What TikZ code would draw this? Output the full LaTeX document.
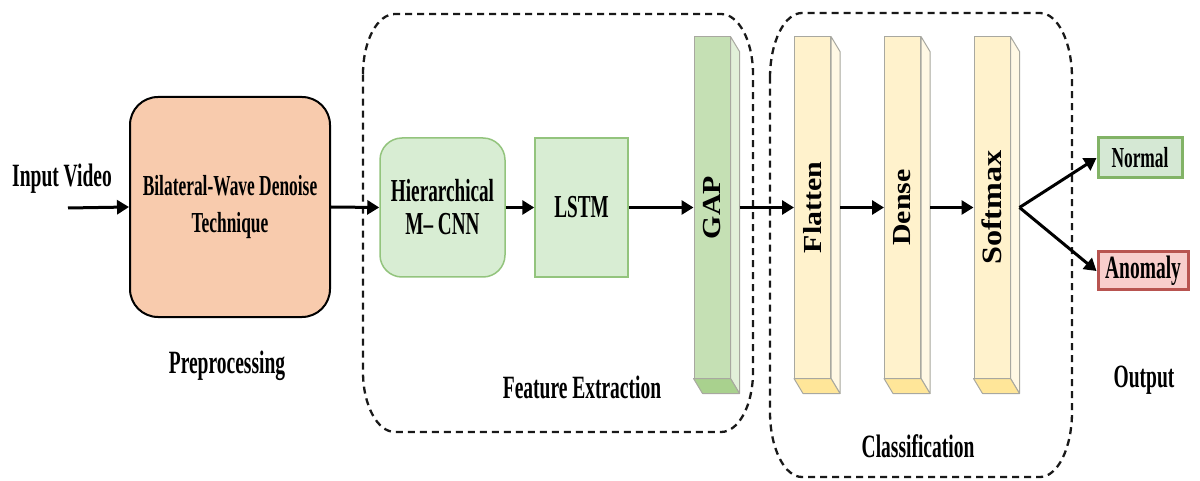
\documentclass[tikz,border=0pt]{standalone}
\usepackage{fontspec}
\newfontfamily\cond{Liberation Serif}[FakeStretch=0.6]
\newfontfamily\widefont{Liberation Serif}[FakeStretch=1.15]
\usetikzlibrary{arrows.meta}
\definecolor{peach}{HTML}{F8CBAD}
\definecolor{lgreen}{HTML}{D8EDD3}
\definecolor{lgreenline}{HTML}{93C47D}
\definecolor{gapfront}{HTML}{C5E0B4}
\definecolor{gapside}{HTML}{E2F0D9}
\definecolor{gapbottom}{HTML}{A9D18E}
\definecolor{yfront}{HTML}{FFF2CC}
\definecolor{yside}{HTML}{FFF8E4}
\definecolor{ybottom}{HTML}{FFE699}
\definecolor{facegray}{HTML}{A8A8A0}
\definecolor{okfill}{HTML}{D5E8D4}
\definecolor{okline}{HTML}{82B366}
\definecolor{badfill}{HTML}{F8CECC}
\definecolor{badline}{HTML}{B85450}
\newcommand{\layerbox}[6]{%
  \node[layer, fill=#3] (#1) at (#2,207.5) {};
  \draw[face, fill=#4] (#1.north east) -- ++(9,15) -- ([shift={(9,15)}]#1.south east) -- (#1.south east) -- cycle;
  \draw[face, fill=#5] (#1.south west) -- (#1.south east) -- ++(9,15) -- ([shift={(9,15)}]#1.south west) -- cycle;
  \node[vlbl] (#1-t) at (#1.center) {#6};
  \coordinate (#1-out) at ([xshift=9]#1.east);
}
\newcommand{\regionpath}[6]{% x0 y0 x1 y1 rx ry
  \draw[region] (#1,#2+#6) arc[start angle=180, end angle=270, x radius=#5, y radius=#6]
    -- (#3-#5,#2) arc[start angle=270, end angle=360, x radius=#5, y radius=#6]
    -- (#3,#4-#6) arc[start angle=0, end angle=90, x radius=#5, y radius=#6]
    -- (#1+#5,#4) arc[start angle=90, end angle=180, x radius=#5, y radius=#6]
    -- cycle;
}
\begin{document}
\begin{tikzpicture}[x=1pt,y=-1pt,
  lbl/.style={font={\cond\bfseries\fontsize{32.5}{38}\selectfont}, inner sep=0pt},
  vlbl/.style={font={\widefont\bfseries\fontsize{26}{30}\selectfont}, inner sep=0pt, rotate=90},
  arr/.style={line width=3pt, -{Triangle[length=12pt,width=14pt]}},
  region/.style={draw=black!90, line width=2.3pt, dash pattern=on 7pt off 5pt},
  layer/.style={draw=facegray, line width=1pt, inner sep=0pt, minimum width=36pt, minimum height=341pt},
  face/.style={draw=facegray, line width=1pt, line join=round},
  peachbox/.style={draw=black, line width=2pt, fill=peach, rounded corners=28pt, minimum width=200pt, minimum height=220pt, align=center, inner sep=0pt, font={\cond\bfseries\fontsize{29}{37}\selectfont}},
  greenbox/.style={draw=lgreenline, line width=1.5pt, fill=lgreen, minimum width=#1, minimum height=139pt, align=center, inner sep=0pt, font={\cond\bfseries\fontsize{32}{33}\selectfont}},
  outbox/.style={line width=3pt, inner sep=0pt}
]
\useasboundingbox[fill=white] (0,0) rectangle (1200,481);

% grouping regions
\regionpath{363}{14}{753}{432}{32}{60}
\regionpath{770}{13}{1072}{477}{32}{65}

% preprocessing
\node[lbl, anchor=base] (inp) at (62,187) {Input Video};
\coordinate (inpStart) at (68,208);
\node[peachbox] (bwd) at (230,207) {Bilateral-Wave Denoise\\Technique};
\node[lbl, anchor=base] (pre) at (227,373) {Preprocessing};

% feature extraction
\node[greenbox=125pt, rounded corners=22pt] (hier) at (442.5,207.5) {Hierarchical\\M– CNN};
\node[greenbox=93pt] (lstm) at (581.5,207.5) {LSTM};
\layerbox{gap}{712}{gapfront}{gapside}{gapbottom}{GAP}
\node[lbl, anchor=base] (fe) at (582,398) {Feature Extraction};

% classification
\layerbox{flat}{812.5}{yfront}{yside}{ybottom}{Flatten}
\layerbox{dense}{902.5}{yfront}{yside}{ybottom}{Dense}
\layerbox{soft}{992}{yfront}{yside}{ybottom}{\fontsize{28}{30}\selectfont Softmax}
\node[lbl, anchor=base] (cls) at (918,457) {Classification};

% outputs
\node[outbox, draw=okline, fill=okfill, minimum width=84pt, minimum height=40pt, font={\cond\bfseries\fontsize{29}{30}\selectfont}] (normal) at (1140,158) {Normal};
\node[outbox, draw=badline, fill=badfill, minimum width=90pt, minimum height=38pt, font={\cond\bfseries\fontsize{32.5}{32}\selectfont}] (anom) at (1143,271) {Anomaly};
\node[lbl, anchor=base] (outl) at (1144,387) {Output};

% connectors
\draw[arr] (inpStart) -- (bwd.west);
\draw[arr] (bwd.east) -- (hier.west);
\draw[arr] (hier.east) -- (lstm.west);
\draw[arr] (lstm.east) -- (gap.west);
\draw[arr] (gap-out) -- (flat.west);
\draw[arr] (flat-out) -- (dense.west);
\draw[arr] (dense-out) -- (soft.west);
\draw[arr] (soft-out) -- (normal.west);
\draw[arr] (soft-out) -- (anom.west);
\end{tikzpicture}
\end{document}
